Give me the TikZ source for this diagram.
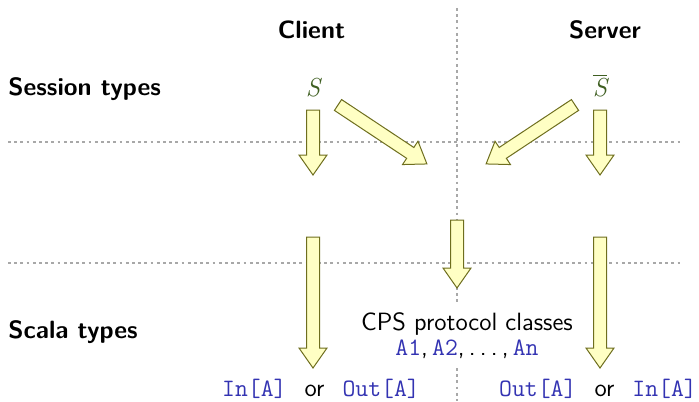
\documentclass[tikz,border=0pt]{standalone}
\usepackage{fontspec}
\usetikzlibrary{calc}

\definecolor{arrowfill}{HTML}{FFFFC4}
\definecolor{arrowdraw}{HTML}{6E6E1E}
\definecolor{codeblue}{rgb}{0.2,0.2,0.7}
\definecolor{sessgreen}{HTML}{3F5F22}
\definecolor{gridgray}{HTML}{A8A8A8}

\newcommand\code[1]{\textcolor{codeblue}{\ttfamily #1}}

% Fat outlined arrow from one named point to another
\newcommand\blockarrow[2]{%
  \path let \p1=(#1), \p2=(#2),
      \n1={atan2(\y2-\y1,\x2-\x1)}, \n2={veclen(\x2-\x1,\y2-\y1)} in
    [barrow]
    ([shift={(\p1)},rotate=\n1]0pt,-3.25pt)
    -- ([shift={(\p1)},rotate=\n1]{\n2*1pt-10pt},-3.25pt)
    -- ([shift={(\p1)},rotate=\n1]{\n2*1pt-10pt},-7pt)
    -- ([shift={(\p1)},rotate=\n1]{\n2*1pt},0pt)
    -- ([shift={(\p1)},rotate=\n1]{\n2*1pt-10pt},7pt)
    -- ([shift={(\p1)},rotate=\n1]{\n2*1pt-10pt},3.25pt)
    -- ([shift={(\p1)},rotate=\n1]0pt,3.25pt) -- cycle;}

\begin{document}
\begin{tikzpicture}[x=0.5pt,y=-0.5pt,
  grid/.style={gridgray, line width=1.4pt, dash pattern=on 1.4pt off 1.7pt},
  barrow/.style={fill=arrowfill, draw=arrowdraw, line width=0.5pt, line join=miter},
  head/.style={font=\sffamily\bfseries\fontsize{12.5}{15}\selectfont, inner sep=0pt},
  txt/.style={font=\sffamily\fontsize{12.5}{15}\selectfont, inner sep=0pt},
  sess/.style={font=\rmfamily\itshape\fontsize{13}{15}\selectfont, text=sessgreen, inner sep=0pt}]
  \useasboundingbox (0,0) rectangle (699,401);

  % grid of dotted separators
  \draw[grid] (8,142) -- (682,142);
  \draw[grid] (8,263) -- (682,263);
  \draw[grid] (457,8) -- (457,303);
  \draw[grid] (457,368) -- (457,401);

  % column and row headings
  \node[head] (client) at (311.5,30) {Client};
  \node[head] (server) at (605,30) {Server};
  \node[head, anchor=base west] (sesstypes) at (8,96) {Session types};
  \node[head, anchor=base west] (scalatypes) at (8,338) {Scala types};

  % session types
  \node[sess, anchor=base] (s) at (313,97) {S};
  \node[sess, anchor=base] (sbar) at (600,97) {$\overline{\mbox{S}}$};

  % generated Scala types
  \node[txt, anchor=base] (cps1) at (467,330) {CPS protocol classes};
  \node[txt, anchor=base] (cps2) at (467,355)
    {\code{A1},\thinspace\code{A2},\thinspace.\thinspace.\thinspace.\thinspace,\thinspace\code{An}};
  \node[txt, anchor=base] (clienttype) at (321,396)
    {\code{In[A]}\hspace{9pt}or\hspace{9pt}\code{Out[A]}};
  \node[txt, anchor=base] (servertype) at (598,396)
    {\code{Out[A]}\hspace{9pt}or\hspace{9pt}\code{In[A]}};

  % arrow end points
  \coordinate (cA) at (313,110);  \coordinate (cB) at (313,175);
  \coordinate (sA) at (600,110);  \coordinate (sB) at (600,175);
  \coordinate (dA) at (338,105);  \coordinate (dB) at (427,164);
  \coordinate (eA) at (575,105);  \coordinate (eB) at (486,164);
  \coordinate (mA) at (457,220);  \coordinate (mB) at (457,288);
  \coordinate (lA) at (313,237);  \coordinate (lB) at (313,368);
  \coordinate (rA) at (600,237);  \coordinate (rB) at (600,368);

  \blockarrow{cA}{cB}
  \blockarrow{sA}{sB}
  \blockarrow{dA}{dB}
  \blockarrow{eA}{eB}
  \blockarrow{mA}{mB}
  \blockarrow{lA}{lB}
  \blockarrow{rA}{rB}
\end{tikzpicture}
\end{document}
